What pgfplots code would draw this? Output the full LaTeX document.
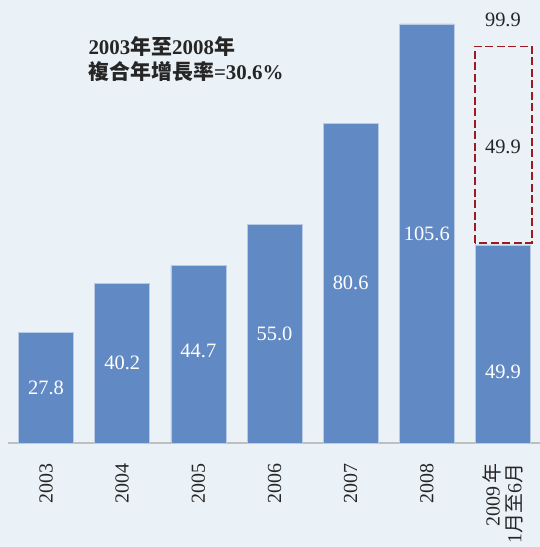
\documentclass[border=0pt]{standalone}
\usepackage{pgfplots}
\usepackage{pgfplotstable}
\pgfplotsset{compat=1.18}
\usepackage{fontspec}
\setmainfont{Liberation Serif}
\newfontfamily\cjk{Noto Sans CJK TC}

\definecolor{bg}{HTML}{EBF2F7}
\definecolor{barblue}{HTML}{6189C3}
\definecolor{boxred}{HTML}{9B1B20}
\definecolor{axisgray}{HTML}{BFBFBF}
\definecolor{txt}{HTML}{262626}

% bar values and the height at which each value label sits
\pgfplotstableread{
x val mid lab
0 27.8 13.9 27.8
1 40.2 20.1 40.2
2 44.7 23.2 44.7
3 55.0 27.5 55.0
4 80.6 40.3 80.6
5 105.6 52.8 105.6
6 49.9 17.9 49.9
}\bardata

% labels of the projected (dashed) part
\pgfplotstableread{
x mid lab
6 74.6 49.9
6 106.5 99.9
}\projdata

\begin{document}
\begin{tikzpicture}
\useasboundingbox (0,0) rectangle (540bp,547bp);
\fill[bg] (0,0) rectangle (540bp,547bp);
\begin{axis}[
    at={(8bp,104bp)}, anchor=south west,
    scale only axis, width=533bp, height=443bp,
    xmin=-0.5, xmax=6.5, ymin=0, ymax=111.6,
    axis y line=none,
    axis x line*=bottom,
    x axis line style={draw=axisgray, line width=1.5bp, -},
    xtick={0,...,6},
    xticklabels={2003,2004,2005,2006,2007,2008,{2009\,{\cjk 年}\\1{\cjk 月至}6{\cjk 月}}},
    xticklabel style={rotate=90, anchor=east, align=right,
        font=\fontsize{20}{22}\selectfont, text=txt},
    xticklabel shift=17bp,
    major tick length=0pt,
    clip=false,
]
  \addplot[ybar, bar width=55bp, fill=barblue, draw=white!55!barblue, line width=0.6bp]
      table[x=x, y=val] {\bardata};

  \addplot[draw=boxred, line width=1.8bp, dash pattern=on 8bp off 3.5bp]
      coordinates {(5.63,50.4) (5.63,99.9) (6.38,99.9) (6.38,50.4) (5.63,50.4)};

  \addplot[only marks, mark=*, mark size=0pt, mark options={draw=none, fill=none},
      nodes near coords, point meta=explicit symbolic,
      nodes near coords style={anchor=center, text=white, font=\fontsize{20.5}{24}\selectfont}]
      table[x=x, y=mid, meta=lab] {\bardata};

  \addplot[only marks, mark=*, mark size=0pt, mark options={draw=none, fill=none},
      nodes near coords, point meta=explicit symbolic,
      nodes near coords style={anchor=center, text=txt, font=\fontsize{20.5}{24}\selectfont}]
      table[x=x, y=mid, meta=lab] {\projdata};
\end{axis}

\node[anchor=west, align=left, text=txt, font=\fontsize{21}{25}\selectfont\bfseries]
    at (85bp,487.5bp)
    {2003{\cjk 年至}2008{\cjk 年}\\{\cjk 複合年增長率}=30.6\%};
\end{tikzpicture}
\end{document}
